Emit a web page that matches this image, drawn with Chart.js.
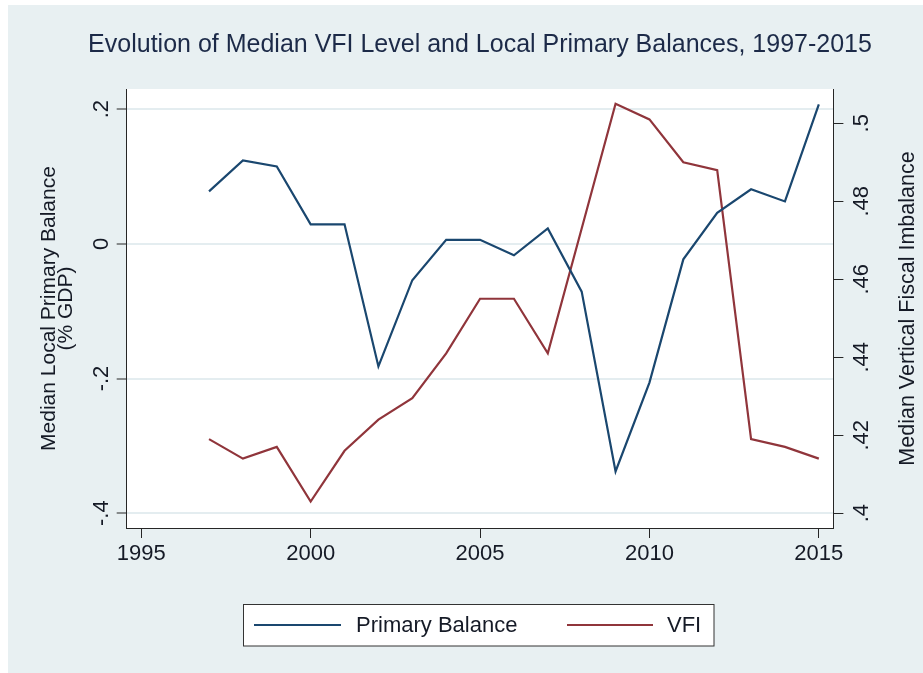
<!DOCTYPE html>
<html>
<head>
<meta charset="utf-8">
<script src="https://cdn.jsdelivr.net/npm/chart.js@4.4.1/dist/chart.umd.min.js"></script>
<style>
html,body{margin:0;padding:0;background:#ffffff;}
#wrap{width:923px;height:673px;position:relative;}
canvas{display:block;}
</style>
</head>
<body>
<div id="wrap"><canvas id="c" width="923" height="673"></canvas></div>
<script>
// ---- data ----
const years = [1997,1998,1999,2000,2001,2002,2003,2004,2005,2006,2007,2008,2009,2010,2011,2012,2013,2014,2015];
const primaryBalance = [0.078,0.124,0.115,0.029,0.029,-0.182,-0.054,0.006,0.006,-0.017,0.023,-0.071,-0.338,-0.206,-0.023,0.046,0.081,0.063,0.207];
const vfi = [0.419,0.414,0.417,0.403,0.416,0.424,0.4295,0.441,0.455,0.455,0.441,0.473,0.505,0.501,0.490,0.488,0.419,0.417,0.414];
const seriesNames = ['Primary Balance','VFI'];
const xTicks = [1995,2000,2005,2010,2015];
const leftTicks = [-0.4,-0.2,0,0.2];
const leftTickLabels = ['-.4','-.2','0','.2'];
const rightTicks = [0.40,0.42,0.44,0.46,0.48,0.50];
const rightTickLabels = ['.4','.42','.44','.46','.48','.5'];
const titleText = 'Evolution of Median VFI Level and Local Primary Balances, 1997-2015';
const leftTitle = ['Median Local Primary Balance','(% GDP)'];
const rightTitle = 'Median Vertical Fiscal Imbalance';

// ---- styling ----
const FONT = '"Liberation Sans", Arial, Helvetica, sans-serif';
const BG = '#e8f0f2';
const BLUE = '#1a476f';
const RED = '#90353b';
const AXIS = '#262626';
const TEXT = '#151a26';

const decor = {
  id: 'decor',
  beforeDraw(chart) {
    const ctx = chart.ctx, a = chart.chartArea;
    ctx.save();
    ctx.fillStyle = '#ffffff';
    ctx.fillRect(0, 0, chart.width, chart.height);
    ctx.fillStyle = BG;
    ctx.fillRect(8, 5, chart.width - 8, chart.height - 5);
    ctx.fillStyle = '#ffffff';
    ctx.fillRect(a.left, a.top, a.right - a.left, a.bottom - a.top);
    ctx.restore();
  },
  afterDraw(chart) {
    const ctx = chart.ctx, a = chart.chartArea;
    const yL = chart.scales.y, yR = chart.scales.y1;
    ctx.save();
    // title
    ctx.fillStyle = '#1c2a48';
    ctx.font = '25px ' + FONT;
    ctx.textAlign = 'center';
    ctx.textBaseline = 'middle';
    ctx.fillText(titleText, 480, 45);

    ctx.fillStyle = TEXT;
    // rotated tick labels (read bottom-to-top)
    function rot(text, x, y, size) {
      ctx.save();
      ctx.translate(x, y);
      ctx.rotate(-Math.PI / 2);
      ctx.font = size + 'px ' + FONT;
      ctx.textAlign = 'center';
      ctx.textBaseline = 'middle';
      ctx.fillText(text, 0, 0);
      ctx.restore();
    }
    leftTicks.forEach((v, i) => rot(leftTickLabels[i], 102, yL.getPixelForValue(v), 22));
    rightTicks.forEach((v, i) => rot(rightTickLabels[i], 862, yR.getPixelForValue(v), 22));
    const midY = (a.top + a.bottom) / 2;
    rot(leftTitle[0], 49, midY, 21);
    rot(leftTitle[1], 66, midY, 21);
    rot(rightTitle, 908, midY, 21.5);

    // legend
    const lx0 = 243.5, ly0 = 604.5, lx1 = 714, ly1 = 646;
    ctx.fillStyle = '#ffffff';
    ctx.fillRect(lx0, ly0, lx1 - lx0, ly1 - ly0);
    ctx.strokeStyle = '#333333';
    ctx.lineWidth = 1;
    ctx.strokeRect(lx0, ly0, lx1 - lx0, ly1 - ly0);
    const ds = chart.data.datasets;
    const items = [
      {x0: 254, x1: 341, tx: 356},
      {x0: 567, x1: 653, tx: 667}
    ];
    items.forEach((it, i) => {
      ctx.strokeStyle = ds[i].borderColor;
      ctx.lineWidth = 2.2;
      ctx.beginPath();
      ctx.moveTo(it.x0, 625);
      ctx.lineTo(it.x1, 625);
      ctx.stroke();
      ctx.fillStyle = TEXT;
      ctx.font = '22px ' + FONT;
      ctx.textAlign = 'left';
      ctx.textBaseline = 'middle';
      ctx.fillText(ds[i].label, it.tx, 626);
    });
    ctx.restore();
  }
};

new Chart(document.getElementById('c'), {
  type: 'line',
  data: {
    datasets: [
      {
        label: seriesNames[0],
        data: years.map((y, i) => ({x: y, y: primaryBalance[i]})),
        borderColor: BLUE,
        backgroundColor: BLUE,
        borderWidth: 2.2,
        pointRadius: 0,
        tension: 0,
        yAxisID: 'y'
      },
      {
        label: seriesNames[1],
        data: years.map((y, i) => ({x: y, y: vfi[i]})),
        borderColor: RED,
        backgroundColor: RED,
        borderWidth: 2.2,
        pointRadius: 0,
        tension: 0,
        yAxisID: 'y1'
      }
    ]
  },
  options: {
    responsive: false,
    animation: false,
    devicePixelRatio: 1,
    layout: {padding: {top: 89, left: 0, right: 0, bottom: 0}},
    plugins: {legend: {display: false}, title: {display: false}, tooltip: {enabled: false}},
    scales: {
      x: {
        type: 'linear',
        min: 1994.57,
        max: 2015.43,
        afterBuildTicks: s => { s.ticks = xTicks.map(v => ({value: v})); },
        afterFit: s => { s.height = 145; },
        ticks: {
          callback: v => String(v),
          font: {family: FONT, size: 22},
          color: TEXT,
          padding: 3,
          maxRotation: 0,
          minRotation: 0
        },
        grid: {drawOnChartArea: false, drawTicks: true, tickLength: 10, tickColor: AXIS, tickWidth: 1},
        border: {display: true, color: AXIS, width: 1}
      },
      y: {
        type: 'linear',
        position: 'left',
        min: -0.422,
        max: 0.230,
        afterBuildTicks: s => { s.ticks = leftTicks.map(v => ({value: v})); },
        afterFit: s => { s.width = 126.7; },
        ticks: {display: false},
        grid: {display: true, drawOnChartArea: true, color: '#e4edf0', lineWidth: 2, drawTicks: true, tickLength: 10, tickColor: AXIS, tickWidth: 1},
        border: {display: true, color: AXIS, width: 1}
      },
      y1: {
        type: 'linear',
        position: 'right',
        min: 0.3962,
        max: 0.5088,
        afterBuildTicks: s => { s.ticks = rightTicks.map(v => ({value: v})); },
        afterFit: s => { s.width = 89.6; },
        ticks: {display: false},
        grid: {display: true, drawOnChartArea: false, drawTicks: true, tickLength: 10, tickColor: AXIS, tickWidth: 1},
        border: {display: true, color: AXIS, width: 1}
      }
    }
  },
  plugins: [decor]
});
</script>
</body>
</html>
